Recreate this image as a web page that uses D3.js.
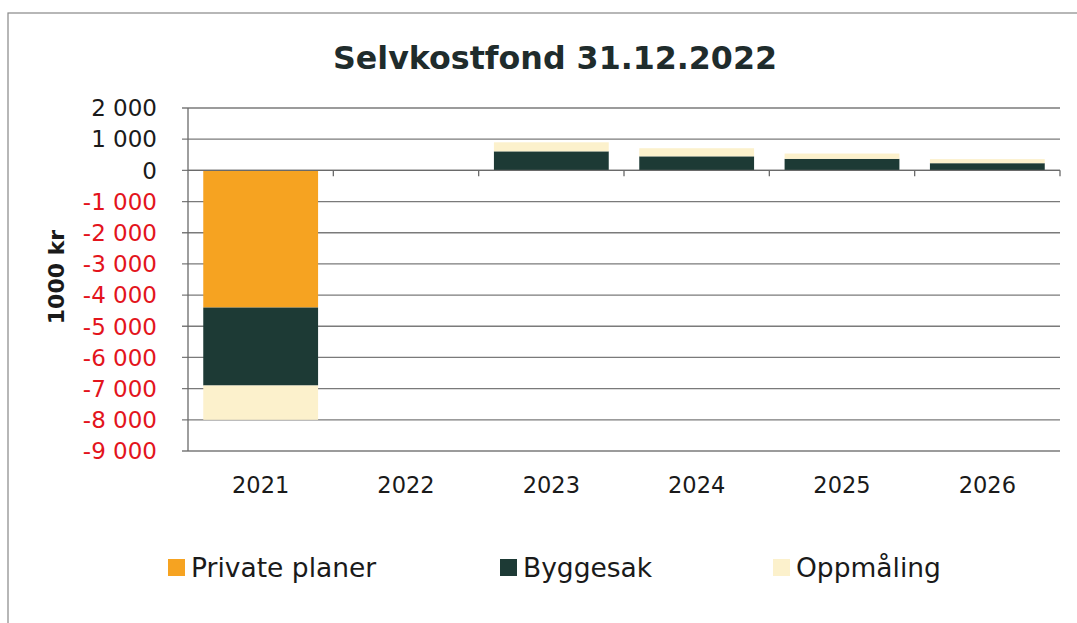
<!DOCTYPE html>
<html>
<head>
<meta charset="utf-8">
<script src="https://cdn.jsdelivr.net/npm/d3@7"></script>
<style>
  body { margin: 0; background: #fff; }
  svg { display: block; font-family: 'DejaVu Sans', Verdana, sans-serif; }
</style>
</head>
<body>
<svg id="chart" width="1077" height="623"></svg>
<script>
// data ------------------------------
const years = ['2021', '2022', '2023', '2024', '2025', '2026']
const seriesNames = ['Private planer', 'Byggesak', 'Oppmåling']
const privatePlaner = [-4400, 0, 0, 0, 0, 0]
const byggesak = [-2500, 0, 610, 450, 370, 230]
const oppmaling = [-1100, 0, 290, 260, 170, 130]
const yTicks = [2000, 1000, 0, -1000, -2000, -3000, -4000, -5000, -6000, -7000, -8000, -9000]
const colors = ['#f6a321', '#1d3a35', '#fcf1cc']

const rows = years.map((y, i) => ({
  year: y,
  'Private planer': privatePlaner[i],
  Byggesak: byggesak[i],
  'Oppmåling': oppmaling[i]
}))

const svg = d3.select('#chart')

// frame round the chart
svg.append('rect')
  .attr('x', 8).attr('y', 13)
  .attr('width', 1100).attr('height', 650)
  .attr('fill', 'none').attr('stroke', '#888').attr('stroke-width', 1.2)

// title
svg.append('text')
  .attr('x', 555).attr('y', 69)
  .attr('text-anchor', 'middle')
  .attr('font-size', 32).attr('font-weight', 'bold')
  .attr('fill', '#1f2c2c')
  .attr('textLength', 444).attr('lengthAdjust', 'spacingAndGlyphs')
  .text('Selvkostfond 31.12.2022')

const x = d3.scaleBand().domain(years).range([188, 1060]).paddingInner(0.21).paddingOuter(0.105)
const y = d3.scaleLinear().domain([-9000, 2000]).range([451, 108])

// gridlines
svg.append('g')
  .selectAll('line')
  .data(yTicks)
  .join('line')
  .attr('x1', 182).attr('x2', 1060)
  .attr('y1', (d) => y(d)).attr('y2', (d) => y(d))
  .attr('stroke', '#7a7a7a').attr('stroke-width', 1.3)

// y axis line
svg.append('line')
  .attr('x1', 188).attr('x2', 188)
  .attr('y1', y(2000)).attr('y2', y(-9000))
  .attr('stroke', '#6a6a6a').attr('stroke-width', 1.3)

// y tick labels, negatives in red
svg.append('g')
  .selectAll('text')
  .data(yTicks)
  .join('text')
  .attr('x', 157).attr('y', (d) => y(d))
  .attr('dy', '0.36em')
  .attr('text-anchor', 'end')
  .attr('font-size', 23)
  .attr('fill', (d) => (d < 0 ? '#e3141c' : '#1a1a1a'))
  .text((d) => d3.format(',')(d).replace(/,/g, ' ').replace('−', '-'))

// y axis title
svg.append('text')
  .attr('transform', 'translate(64, 277) rotate(-90)')
  .attr('text-anchor', 'middle')
  .attr('font-size', 22).attr('font-weight', 'bold')
  .attr('fill', '#1a1a1a')
  .text('1000 kr')

// stacked bars
const stack = d3.stack().keys(seriesNames).offset(d3.stackOffsetDiverging)
const layers = stack(rows)

svg.append('g')
  .selectAll('g')
  .data(layers)
  .join('g')
  .attr('fill', (d, i) => colors[i])
  .selectAll('rect')
  .data((d) => d)
  .join('rect')
  .attr('x', (d) => x(d.data.year))
  .attr('width', x.bandwidth())
  .attr('y', (d) => y(Math.max(d[0], d[1])))
  .attr('height', (d) => Math.abs(y(d[0]) - y(d[1])))

// category axis on zero
const xAxis = svg.append('g').attr('transform', `translate(0, ${y(0)})`)
xAxis.append('line')
  .attr('x1', 188).attr('x2', 1060)
  .attr('stroke', '#6a6a6a').attr('stroke-width', 1.3)
xAxis.selectAll('.tk')
  .data(years)
  .join('line')
  .attr('class', 'tk')
  .attr('x1', (d) => x(d) + x.bandwidth() + x.step() * 0.105)
  .attr('x2', (d) => x(d) + x.bandwidth() + x.step() * 0.105)
  .attr('y1', 0).attr('y2', 6)
  .attr('stroke', '#6a6a6a').attr('stroke-width', 1.3)

// year labels
svg.append('g')
  .selectAll('text')
  .data(years)
  .join('text')
  .attr('x', (d) => x(d) + x.bandwidth() / 2)
  .attr('y', 493)
  .attr('text-anchor', 'middle')
  .attr('font-size', 22.5)
  .attr('fill', '#1a1a1a')
  .text((d) => d)

// legend
const legendX = [168, 500, 773]
const legend = svg.append('g')
  .selectAll('g')
  .data(seriesNames)
  .join('g')
  .attr('transform', (d, i) => `translate(${legendX[i]}, 559)`)
legend.append('rect')
  .attr('width', 17).attr('height', 17)
  .attr('fill', (d, i) => colors[i])
legend.append('text')
  .attr('x', 23).attr('y', 18)
  .attr('font-size', 26.5)
  .attr('fill', '#1a1a1a')
  .text((d) => d)
</script>
</body>
</html>
